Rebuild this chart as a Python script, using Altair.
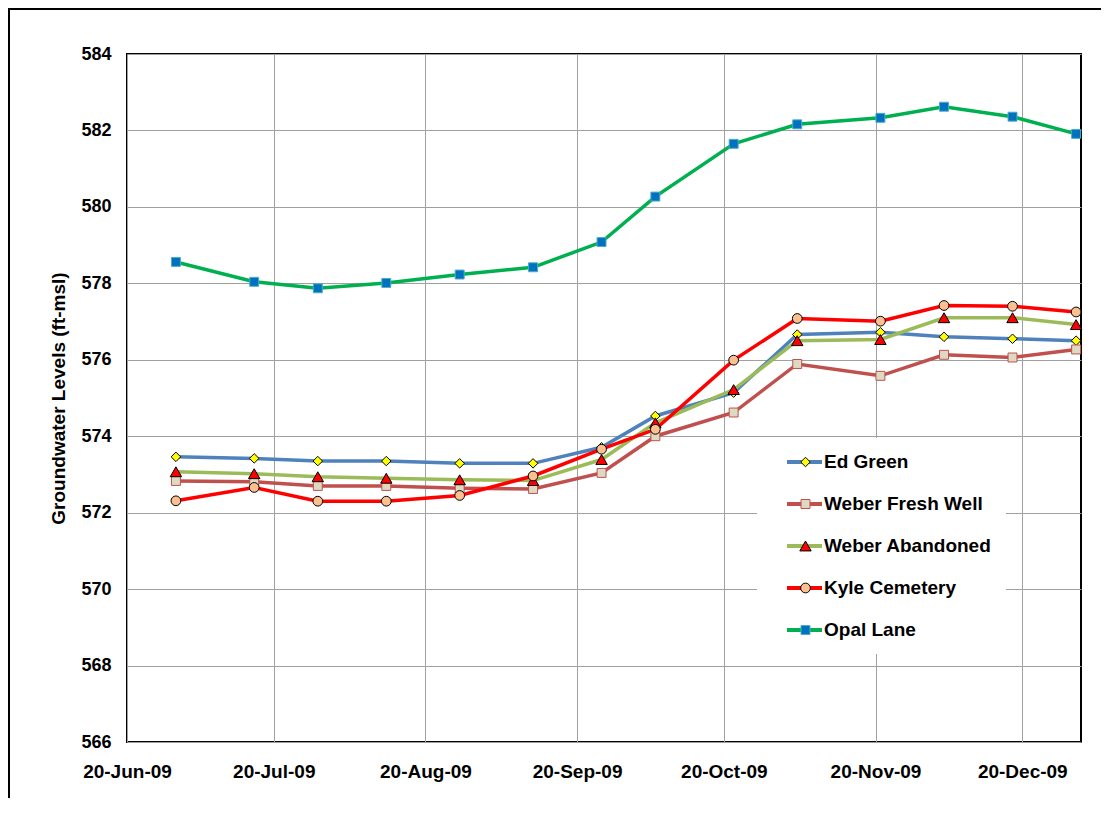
import altair as alt
import pandas as pd

# ---- data ----
dates = ["2009-06-30", "2009-07-16", "2009-07-29", "2009-08-12", "2009-08-27",
         "2009-09-11", "2009-09-25", "2009-10-06", "2009-10-22", "2009-11-04",
         "2009-11-21", "2009-12-04", "2009-12-18", "2009-12-31"]

series_names = ["Ed Green", "Weber Fresh Well", "Weber Abandoned", "Kyle Cemetery", "Opal Lane"]

ed_green = [573.46, 573.42, 573.35, 573.35, 573.29, 573.29, 573.71, 574.53, 575.14,
            576.66, 576.72, 576.60, 576.55, 576.50]
weber_fresh_well = [572.83, 572.81, 572.70, 572.70, 572.64, 572.62, 573.04, 574.00, 574.62,
                    575.89, 575.58, 576.13, 576.06, 576.27]
weber_abandoned = [573.07, 573.02, 572.94, 572.90, 572.86, 572.84, 573.39, 574.35, 575.22,
                   576.50, 576.53, 577.10, 577.10, 576.92]
kyle_cemetery = [572.31, 572.66, 572.30, 572.30, 572.45, 572.96, 573.66, 574.18, 575.99,
                 577.08, 577.01, 577.42, 577.40, 577.25]
opal_lane = [578.56, 578.04, 577.87, 578.01, 578.23, 578.42, 579.08, 580.27, 581.65,
             582.16, 582.33, 582.62, 582.36, 581.91]

x_tick_dates = [(2009, 6, 20), (2009, 7, 20), (2009, 8, 20), (2009, 9, 20),
                (2009, 10, 20), (2009, 11, 20), (2009, 12, 20)]
y_ticks = [566, 568, 570, 572, 574, 576, 578, 580, 582, 584]

# ---- styles ----
line_colors = ["#4F81BD", "#C0504D", "#9BBB59", "#FF0000", "#00B050"]
marker_fills = ["#FFFF00", "#DDD9C3", "#FF0000", "#FAC090", "#0070C0"]
marker_strokes = ["#000000", "#C0504D", "#000000", "#000000", "#4BACC6"]
marker_shapes = ["diamond", "square", "triangle-up", "circle", "square"]
marker_sizes = [90, 80, 130, 95, 80]
FONT = "Liberation Sans"

rows = []
for name, vals in zip(series_names, [ed_green, weber_fresh_well, weber_abandoned,
                                     kyle_cemetery, opal_lane]):
    for d, v in zip(dates, vals):
        rows.append({"date": d, "level": v, "series": name, "well": name})
df = pd.DataFrame(rows)


def dt(y, m, d):
    return alt.DateTime(year=y, month=m, date=d, utc=True)


x_enc = alt.X(
    "date:T",
    scale=alt.Scale(type="utc", domain=[dt(2009, 6, 20), dt(2010, 1, 1)]),
    axis=alt.Axis(
        values=[dt(*t) for t in x_tick_dates],
        labelExpr="utcFormat(datum.value, '%d-%b-%y')",
        title=None, grid=True, ticks=False, domain=False, labelFlush=False,
        labelOverlap=False, labelFont=FONT, labelFontSize=19, labelFontWeight="bold",
        labelColor="black", labelPadding=20,
    ),
)
y_enc = alt.Y(
    "level:Q",
    scale=alt.Scale(domain=[566, 584], nice=False, zero=False),
    axis=alt.Axis(
        values=y_ticks, format="d", title="Groundwater Levels (ft-msl)",
        titleFont=FONT, titleFontSize=19, titleFontWeight="bold", titleColor="black",
        titlePadding=12, grid=True, ticks=False, domain=False,
        labelFont=FONT, labelFontSize=18, labelFontWeight="bold", labelColor="black",
        labelPadding=16,
    ),
)

LEG_X, LEG_Y = 630, 384

line_legend = alt.Legend(
    orient="none", legendX=LEG_X, legendY=LEG_Y, title=None,
    symbolType="stroke", symbolSize=1225, symbolStrokeWidth=4,
    labelFont=FONT, labelFontSize=19, labelFontWeight="bold", labelColor="black",
    labelOffset=0, labelLimit=400, rowPadding=22, clipHeight=20, padding=14,
    symbolOffset=14, fillColor="white",
)
marker_legend = alt.Legend(
    orient="none", legendX=LEG_X, legendY=LEG_Y, title=None,
    symbolStrokeWidth=1, symbolOpacity=1,
    labelExpr="''", labelFontSize=19,
    labelOffset=0, rowPadding=22, clipHeight=20, padding=14,
    symbolOffset=25,
)

base = alt.Chart(df)

lines = base.mark_line(strokeWidth=3.5).encode(
    x=x_enc, y=y_enc,
    color=alt.Color("series:N", sort=series_names, scale=alt.Scale(range=line_colors),
                    legend=line_legend),
)

points = base.mark_point(filled=True, opacity=1, strokeWidth=1).encode(
    x=x_enc, y=y_enc,
    fill=alt.Fill("well:N", scale=alt.Scale(domain=series_names, range=marker_fills),
                  legend=marker_legend),
    stroke=alt.Stroke("well:N", scale=alt.Scale(domain=series_names, range=marker_strokes),
                      legend=marker_legend),
    shape=alt.Shape("well:N", scale=alt.Scale(domain=series_names, range=marker_shapes),
                    legend=marker_legend),
    size=alt.Size("well:N", scale=alt.Scale(type="ordinal", domain=series_names,
                                            range=marker_sizes),
                  legend=marker_legend),
)

frame_df = pd.DataFrame({"k": [0]})
frame_v = alt.Chart(frame_df).mark_rule(color="black", strokeWidth=2).encode(
    x=alt.value(-118), y=alt.value(-46), y2=alt.value(744)
)
frame_h = alt.Chart(frame_df).mark_rule(color="black", strokeWidth=2).encode(
    x=alt.value(-119), x2=alt.value(980), y=alt.value(-45)
)

chart = alt.layer(lines, points, frame_v, frame_h).properties(
    width=954, height=688,
    padding={"left": 119, "top": 46, "right": 20, "bottom": 56},
    autosize=alt.AutoSizeParams(type="none"),
    background="white",
).configure_view(
    stroke="black", strokeWidth=2
).configure_axis(
    gridColor="#A0A0A0", gridWidth=1
)

chart.save("out.html", embed_options={"renderer": "svg", "actions": False})
